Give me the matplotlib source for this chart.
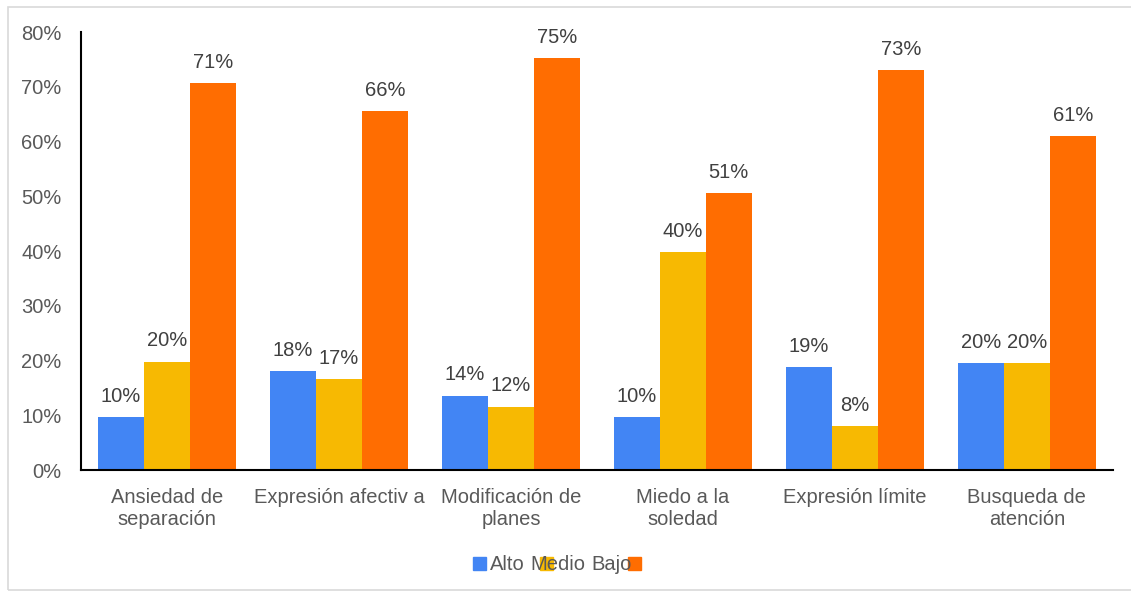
import numpy as np
import matplotlib.pyplot as plt
from matplotlib.patches import Rectangle
from matplotlib.ticker import PercentFormatter

plt.rcParams['font.family'] = ['Liberation Sans', 'DejaVu Sans']

# datos
categorias = ['Ansiedad de\nseparación', 'Expresión afectiv a', 'Modificación de\nplanes',
              'Miedo a la\nsoledad', 'Expresión límite', 'Busqueda de\natención']
alto = [9.6, 18.0, 13.6, 9.6, 18.8, 19.5]
medio = [19.8, 16.6, 11.6, 39.8, 8.0, 19.5]
bajo = [70.6, 65.6, 75.2, 50.6, 73.1, 61.0]
series = ['Alto', 'Medio', 'Bajo']
colores = ['#4285F4', '#F7B902', '#FF6D01']

fig = plt.figure(figsize=(11.31, 5.93), dpi=100)
ax = fig.add_axes([0.0716, 0.2074, 0.9124, 0.7386])

x = np.arange(len(categorias))
w = 0.267
for i, (vals, nombre, c) in enumerate(zip([alto, medio, bajo], series, colores)):
    barras = ax.bar(x + (i - 1) * w, vals, w, color=c, label=nombre)
    for b, v in zip(barras, vals):
        ax.annotate(f'{round(v):.0f}%', (b.get_x() + b.get_width() / 2, v),
                    xytext=(0, 8), textcoords='offset points', ha='center', va='bottom',
                    fontsize=14.5, color='#404040')

ax.set_xlim(-0.5, len(categorias) - 0.5)
ax.set_ylim(0, 80)
ax.set_yticks(np.arange(0, 81, 10))
ax.yaxis.set_major_formatter(PercentFormatter(decimals=0))
ax.set_xticks(x)
ax.set_xticklabels(categorias)
ax.tick_params(length=0, labelsize=14.5, labelcolor='#595959', pad=13)
ax.tick_params(axis='y', pad=14)
for lado in ['top', 'right']:
    ax.spines[lado].set_visible(False)
for lado in ['left', 'bottom']:
    ax.spines[lado].set_color('black')
    ax.spines[lado].set_linewidth(1.5)

# leyenda como en el original (marcadores encima del texto)
W, H = 1131, 593
pos_texto = [490, 530, 591]
pos_marca = [473, 540, 628]
for nombre, c, xt, xm in zip(series, colores, pos_texto, pos_marca):
    fig.patches.append(Rectangle((xm / W, 1 - 570 / H), 13 / W, 13 / H,
                                 transform=fig.transFigure, color=c, zorder=1))
    fig.text(xt / W, 1 - 564 / H, nombre, ha='left', va='center', fontsize=14.5,
             color='#595959', zorder=2)

# marco gris del gráfico
fig.patches.append(Rectangle((8 / W, 3 / H), 1, 1 - 10 / H, transform=fig.transFigure,
                             fill=False, edgecolor='#D9D9D9', linewidth=1.2))

fig.savefig('out.png', dpi=100)
